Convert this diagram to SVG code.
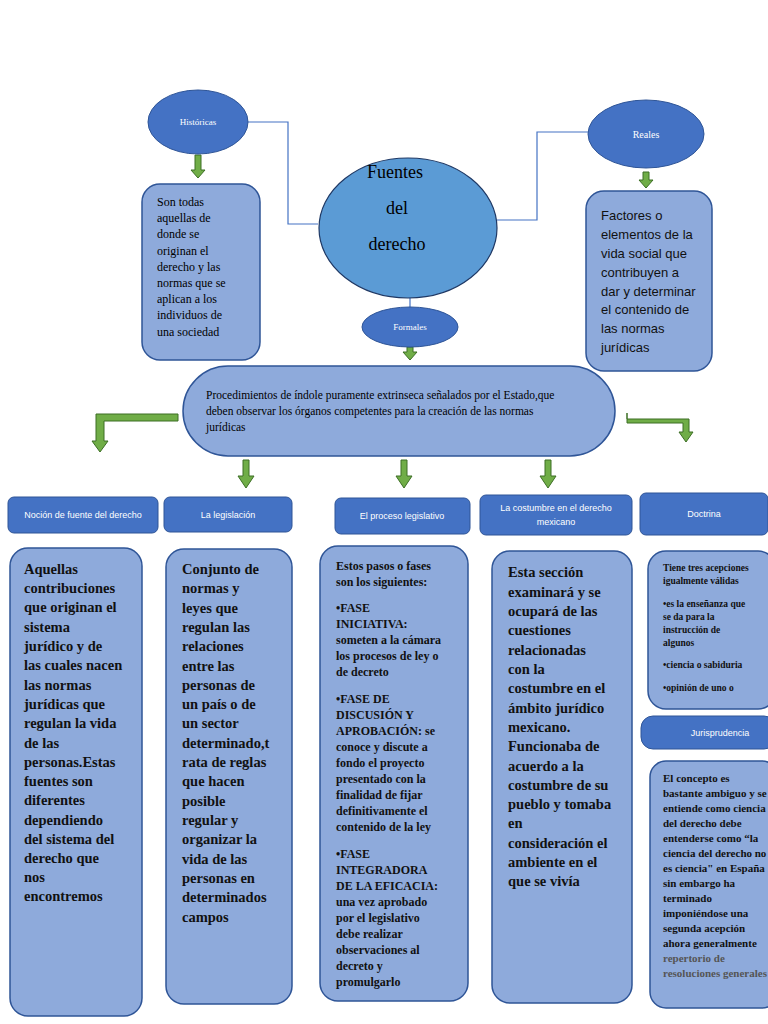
<svg xmlns="http://www.w3.org/2000/svg" width="768" height="1024" viewBox="0 0 768 1024">
<style>
.box{fill:#8eaadb;stroke:#2f5597;stroke-width:1.5}
.hdr{fill:#4472c4;stroke:#2f5597;stroke-width:1}
.ell{fill:#4472c4;stroke:#2f5597;stroke-width:1}
.ga{fill:#70ad47;stroke:#3c6e25;stroke-width:1}
.ln{fill:none;stroke:#4472c4;stroke-width:1.2}
.s{font-family:"Liberation Serif",serif;fill:#000}
.b{font-family:"Liberation Serif",serif;font-weight:bold;fill:#111}
.w{font-family:"Liberation Sans",Arial,sans-serif;fill:#fff;font-size:9px}
.c{font-family:"Liberation Sans",Arial,sans-serif;fill:#111;font-size:13px}
</style>
<rect width="768" height="1024" fill="#fff"/>
<g id="connectors">
<polyline class="ln" points="248,122 288,122 288,224 318,224"/>
<polyline class="ln" points="588,132 537,132 537,220 497,220"/>
<line class="ln" x1="410" y1="298" x2="410" y2="308"/>
<path class="ga" d="M195,155h6v15h4l-7,8l-7,-8h4z"/>
<path class="ga" d="M643,172h6v8h4l-7,8l-7,-8h4z"/>
<path class="ga" d="M407,347h6v5h4l-7,8l-7,-8h4z"/>
<path class="ga" d="M178,414v7h-74v20h4l-8,11l-8,-11h4v-27z"/>
<path class="ga" d="M627,413v6h62v13h4l-7,10l-7,-10h4v-9h-56z"/>
<path class="ga" d="M243,460h6v16h5l-8,12l-8,-12h5z"/>
<path class="ga" d="M401,460h6v16h5l-8,12l-8,-12h5z"/>
<path class="ga" d="M545,460h6v16h5l-8,12l-8,-12h5z"/>
</g>
<g id="historicas"><ellipse class="ell" cx="198" cy="122" rx="50" ry="32"/><text class="w" x="198" y="125" text-anchor="middle" font-family="Liberation Serif" style="font-family:'Liberation Serif',serif">Históricas</text></g>
<g id="hist-text"><rect class="box" x="142" y="184" width="118" height="176" rx="18"/>
<text class="s" font-size="12"><tspan x="157" y="206">Son todas</tspan><tspan x="157" y="222">aquellas de</tspan><tspan x="157" y="238">donde se</tspan><tspan x="157" y="255">originan el</tspan><tspan x="157" y="271">derecho y las</tspan><tspan x="157" y="287">normas que se</tspan><tspan x="157" y="303">aplican a los</tspan><tspan x="157" y="319">individuos de</tspan><tspan x="157" y="336">una sociedad</tspan></text></g>
<g id="fuentes"><ellipse cx="408" cy="228" rx="89" ry="70" fill="#5b9bd5" stroke="#1f3864" stroke-width="1.2"/>
<text class="s" font-size="18" text-anchor="middle"><tspan x="395" y="178">Fuentes</tspan><tspan x="397" y="214">del</tspan><tspan x="397" y="250">derecho</tspan></text></g>
<g id="reales"><ellipse class="ell" cx="646" cy="134" rx="58" ry="34"/><text class="w" x="646" y="138" text-anchor="middle" style="font-family:'Liberation Serif',serif;font-size:10px">Reales</text></g>
<g id="reales-text"><rect class="box" x="586" y="191" width="126" height="180" rx="18"/>
<text class="c"><tspan x="601" y="220">Factores o</tspan><tspan x="601" y="239">elementos de la</tspan><tspan x="601" y="258">vida social que</tspan><tspan x="601" y="277">contribuyen a</tspan><tspan x="601" y="296">dar y determinar</tspan><tspan x="601" y="314">el contenido de</tspan><tspan x="601" y="333">las normas</tspan><tspan x="601" y="352">jurídicas</tspan></text></g>
<g id="formales"><ellipse class="ell" cx="410" cy="327" rx="48" ry="20"/><text class="w" x="410" y="330" text-anchor="middle" style="font-family:'Liberation Serif',serif">Formales</text></g>
<g id="procedimientos"><rect class="box" x="183" y="366" width="432" height="90" rx="45"/>
<text class="s" font-size="11.5"><tspan x="206" y="399">Procedimientos de índole puramente extrinseca señalados por el Estado,que</tspan><tspan x="206" y="415">deben observar los órganos competentes para la creación de las normas</tspan><tspan x="206" y="431">jurídicas</tspan></text></g>
<g id="h1"><rect class="hdr" x="8" y="497" width="150" height="36" rx="6"/><text class="w" x="83" y="518" text-anchor="middle">Noción de fuente del derecho</text></g>
<g id="h2"><rect class="hdr" x="164" y="497" width="128" height="35" rx="6"/><text class="w" x="228" y="518" text-anchor="middle">La legislación</text></g>
<g id="h3"><rect class="hdr" x="335" y="498" width="135" height="36" rx="6"/><text class="w" x="402" y="519" text-anchor="middle">El proceso legislativo</text></g>
<g id="h4"><rect class="hdr" x="480" y="495" width="152" height="40" rx="6"/><text class="w" text-anchor="middle"><tspan x="556" y="511">La costumbre en el derecho</tspan><tspan x="556" y="525">mexicano</tspan></text></g>
<g id="h5"><rect class="hdr" x="640" y="493" width="128" height="42" rx="6"/><text class="w" x="704" y="517" text-anchor="middle">Doctrina</text></g>
<g id="b1"><rect class="box" x="10" y="548" width="132" height="468" rx="18"/>
<text class="b" font-size="14.5"><tspan x="24" y="574">Aquellas</tspan><tspan x="24" y="593">contribuciones</tspan><tspan x="24" y="612">que originan el</tspan><tspan x="24" y="632">sistema</tspan><tspan x="24" y="651">jurídico y de</tspan><tspan x="24" y="670">las cuales nacen</tspan><tspan x="24" y="690">las normas</tspan><tspan x="24" y="709">jurídicas que</tspan><tspan x="24" y="728">regulan la vida</tspan><tspan x="24" y="748">de las</tspan><tspan x="24" y="767">personas.Estas</tspan><tspan x="24" y="786">fuentes son</tspan><tspan x="24" y="805">diferentes</tspan><tspan x="24" y="825">dependiendo</tspan><tspan x="24" y="844">del sistema del</tspan><tspan x="24" y="863">derecho que</tspan><tspan x="24" y="882">nos</tspan><tspan x="24" y="901">encontremos</tspan></text></g>
<g id="b2"><rect class="box" x="166" y="549" width="126" height="455" rx="18"/>
<text class="b" font-size="14.5"><tspan x="182" y="574">Conjunto de</tspan><tspan x="182" y="593">normas y</tspan><tspan x="182" y="613">leyes que</tspan><tspan x="182" y="632">regulan las</tspan><tspan x="182" y="651">relaciones</tspan><tspan x="182" y="671">entre las</tspan><tspan x="182" y="690">personas de</tspan><tspan x="182" y="709">un país o de</tspan><tspan x="182" y="728">un sector</tspan><tspan x="182" y="748">determinado,t</tspan><tspan x="182" y="767">rata de reglas</tspan><tspan x="182" y="786">que hacen</tspan><tspan x="182" y="806">posible</tspan><tspan x="182" y="825">regular y</tspan><tspan x="182" y="844">organizar la</tspan><tspan x="182" y="864">vida de las</tspan><tspan x="182" y="883">personas en</tspan><tspan x="182" y="902">determinados</tspan><tspan x="182" y="922">campos</tspan></text></g>
<g id="b3"><rect class="box" x="320" y="546" width="148" height="455" rx="18"/>
<text class="b" font-size="12"><tspan x="336" y="570">Estos pasos o fases</tspan><tspan x="336" y="586">son los siguientes:</tspan><tspan x="336" y="612">•FASE</tspan><tspan x="336" y="628">INICIATIVA:</tspan><tspan x="336" y="644">someten a la cámara</tspan><tspan x="336" y="660">los procesos de ley o</tspan><tspan x="336" y="676">de decreto</tspan><tspan x="336" y="703">•FASE DE</tspan><tspan x="336" y="719">DISCUSIÓN Y</tspan><tspan x="336" y="735">APROBACIÓN: se</tspan><tspan x="336" y="751">conoce y discute a</tspan><tspan x="336" y="767">fondo el proyecto</tspan><tspan x="336" y="783">presentado con la</tspan><tspan x="336" y="799">finalidad de fijar</tspan><tspan x="336" y="815">definitivamente el</tspan><tspan x="336" y="831">contenido de la ley</tspan><tspan x="336" y="858">•FASE</tspan><tspan x="336" y="874">INTEGRADORA</tspan><tspan x="336" y="890">DE LA EFICACIA:</tspan><tspan x="336" y="906">una vez aprobado</tspan><tspan x="336" y="922">por el legislativo</tspan><tspan x="336" y="938">debe realizar</tspan><tspan x="336" y="954">observaciones al</tspan><tspan x="336" y="970">decreto y</tspan><tspan x="336" y="986">promulgarlo</tspan></text></g>
<g id="b4"><rect class="box" x="492" y="551" width="140" height="452" rx="18"/>
<text class="b" font-size="14.5"><tspan x="508" y="577">Esta sección</tspan><tspan x="508" y="597">examinará y se</tspan><tspan x="508" y="616">ocupará de las</tspan><tspan x="508" y="635">cuestiones</tspan><tspan x="508" y="655">relacionadas</tspan><tspan x="508" y="674">con la</tspan><tspan x="508" y="693">costumbre en el</tspan><tspan x="508" y="713">ámbito jurídico</tspan><tspan x="508" y="732">mexicano.</tspan><tspan x="508" y="751">Funcionaba de</tspan><tspan x="508" y="771">acuerdo a la</tspan><tspan x="508" y="790">costumbre de su</tspan><tspan x="508" y="809">pueblo y tomaba</tspan><tspan x="508" y="828">en</tspan><tspan x="508" y="848">consideración el</tspan><tspan x="508" y="867">ambiente en el</tspan><tspan x="508" y="886">que se vivía</tspan></text></g>
<g id="b5"><rect class="box" x="648" y="551" width="128" height="158" rx="18"/>
<text class="b" font-size="9.5"><tspan x="663" y="571">Tiene tres acepciones</tspan><tspan x="663" y="584">igualmente válidas</tspan><tspan x="663" y="607">•es la enseñanza que</tspan><tspan x="663" y="620">se da para la</tspan><tspan x="663" y="633">instrucción de</tspan><tspan x="663" y="646">algunos</tspan><tspan x="663" y="668">•ciencia o sabiduria</tspan><tspan x="663" y="691">•opinión de uno o</tspan></text></g>
<g id="h6"><rect class="hdr" x="641" y="716" width="135" height="33" rx="12"/><text class="w" x="720" y="736" text-anchor="middle">Jurisprudencia</text></g>
<g id="b6"><rect class="box" x="650" y="761" width="128" height="247" rx="16"/>
<text class="b" font-size="11"><tspan x="663" y="782">El concepto es</tspan><tspan x="663" y="797">bastante ambiguo y se</tspan><tspan x="663" y="812">entiende como ciencia</tspan><tspan x="663" y="827">del derecho debe</tspan><tspan x="663" y="842">entenderse como “la</tspan><tspan x="663" y="857">ciencia del derecho no</tspan><tspan x="663" y="872">es ciencia" en España</tspan><tspan x="663" y="887">sin embargo ha</tspan><tspan x="663" y="902">terminado</tspan><tspan x="663" y="917">imponiéndose una</tspan><tspan x="663" y="932">segunda acepción</tspan><tspan x="663" y="947">ahora generalmente</tspan><tspan x="663" y="962" fill="#555">repertorio de</tspan><tspan x="663" y="977" fill="#555">resoluciones generales</tspan></text></g>
</svg>
